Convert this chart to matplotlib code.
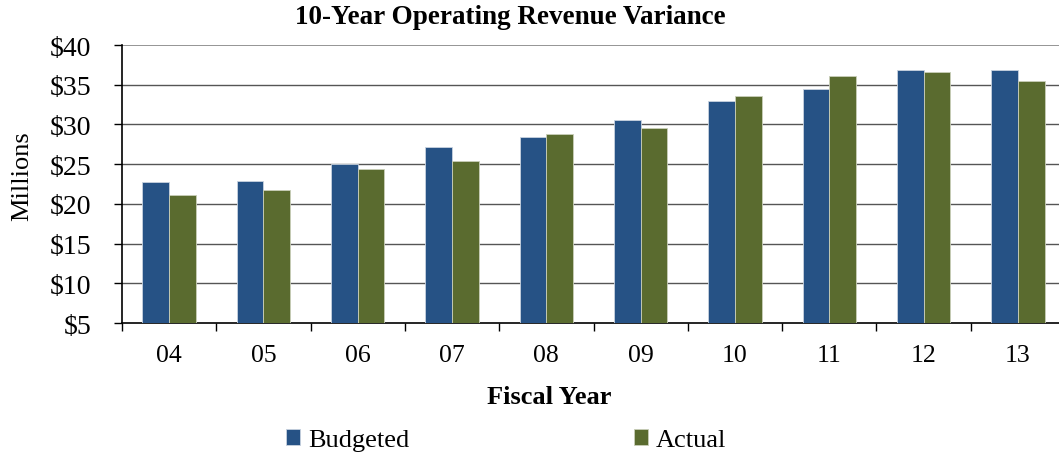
import matplotlib
matplotlib.use("Agg")
import matplotlib.pyplot as plt
import numpy as np

years = ["04", "05", "06", "07", "08", "09", "10", "11", "12", "13"]
budgeted = [22.7, 22.9, 25.0, 27.1, 28.45, 30.5, 32.95, 34.45, 36.85, 36.85]
actual = [21.1, 21.8, 24.4, 25.4, 28.8, 29.55, 33.6, 36.05, 36.6, 35.45]
yticks = [5, 10, 15, 20, 25, 30, 35, 40]

plt.rcParams['font.family'] = ['Liberation Serif', 'DejaVu Serif']

W, H = 1059, 460
fig = plt.figure(figsize=(W / 100, H / 100), dpi=100)
ax = fig.add_axes([122 / W, 1 - 324 / H, (1065 - 122) / W, (324 - 46) / H])

x = np.arange(len(years))
bw = 0.283
blue = '#265285'
green = '#5a6b2f'
ax.bar(x - bw / 2, budgeted, bw, color=blue, edgecolor='#c8d3e0', linewidth=0.6,
       label='Budgeted', zorder=3)
ax.bar(x + bw / 2, actual, bw, color=green, edgecolor='#c9cfb9', linewidth=0.6,
       label='Actual', zorder=3)

ax.set_xlim(-0.5, len(years) - 0.5)
ax.set_ylim(5, 40)
ax.set_yticks(yticks)
ax.set_yticklabels([f"${v}" for v in yticks], fontsize=20)
ax.set_xticks(x)
ax.set_xticklabels(years, fontsize=18.5)
ax.set_xticks(np.arange(-0.5, len(years)), minor=True)
ax.tick_params(axis='x', which='major', length=0, pad=15)
ax.tick_params(axis='x', which='minor', length=6, width=1, color='black', direction='out')
ax.tick_params(axis='y', length=6, width=1, direction='out', pad=16)

for v in yticks[1:]:
    ax.axhline(v, color='#555555' if v != 40 else '#8c8c8c', linewidth=1.3 if v == 40 else 1.0, zorder=1)

for s in ['top', 'right']:
    ax.spines[s].set_visible(False)
ax.spines['left'].set_linewidth(1.2)
ax.spines['bottom'].set_linewidth(1.2)

fig.text(510 / W, 1 - 18 / H, "10-Year Operating Revenue Variance", fontsize=19.5,
         fontweight='bold', ha='center', va='center')
fig.text(549 / W, 1 - 398 / H, "Fiscal Year", fontsize=19, fontweight='bold',
         ha='center', va='center')
fig.text(22 / W, 1 - 176 / H, "Millions", fontsize=19, rotation=90,
         ha='center', va='center')

leg = fig.legend(loc='center', bbox_to_anchor=(506 / W, 1 - 441 / H), ncol=2,
                 frameon=False, fontsize=19, handlelength=0.55, handleheight=0.55,
                 handletextpad=0.3, columnspacing=8.5)

fig.savefig("out.png", dpi=100)
